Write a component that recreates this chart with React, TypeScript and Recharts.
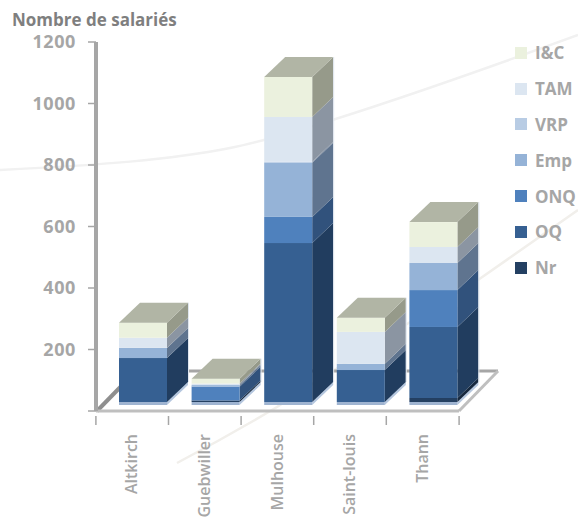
import { BarChart, Bar, XAxis, YAxis, Legend } from 'recharts';

const categories = ['Altkirch', 'Guebwiller', 'Mulhouse', 'Saint-louis', 'Thann'];
const nr = [0, 5, 0, 0, 13];
const oq = [143, 0, 517, 104, 231];
const onq = [0, 45, 85, 0, 120];
const emp = [33, 5, 176, 20, 88];
const vrp = [0, 0, 3, 0, 0];
const tam = [33, 5, 146, 104, 52];
const ic = [49, 16, 130, 46, 81];
const yTicks = [0, 200, 400, 600, 800, 1000, 1200];

const data = categories.map((name, i) => ({
  name,
  Nr: nr[i],
  OQ: oq[i],
  ONQ: onq[i],
  Emp: emp[i],
  VRP: vrp[i],
  TAM: tam[i],
  'I&C': ic[i],
}));

// bottom to top, front colour and side colour
const series = [
  { key: 'Nr', color: '#244062', side: '#17293f' },
  { key: 'OQ', color: '#366092', side: '#213d5f' },
  { key: 'ONQ', color: '#4f81bd', side: '#31527c' },
  { key: 'Emp', color: '#95b3d7', side: '#5f748f' },
  { key: 'VRP', color: '#b8cce4', side: '#76859a' },
  { key: 'TAM', color: '#dce6f1', side: '#8b95a2' },
  { key: 'I&C', color: '#ebf1de', side: '#969a8a' },
];

const GREY = '#a6a6a6';
const FONT = '"Open Sans", sans-serif';

// the 3d look: bars sit a bit behind the axis line and have a depth
const SHIFT_X = 11;
const SHIFT_Y = -9;
const DEPTH_X = 21;
const DEPTH_Y = 20;

function Block(props: any) {
  const { x, y, width, height, color, side, isTop, isBase } = props;
  const l = x + SHIFT_X;
  const r = l + width;
  const t = y + SHIFT_Y;
  const b = t + height;
  return (
    <g>
      {isBase && (
        <g>
          <path
            d={`M${r} ${b} L${r + DEPTH_X} ${b - DEPTH_Y} L${r + DEPTH_X} ${b - DEPTH_Y + 3} L${r} ${b + 3} Z`}
            fill="#b4c6de"
          />
          <rect x={l} y={b} width={width} height={3} fill="#9fb4d1" />
        </g>
      )}
      {height > 0 && (
        <g>
          <path
            d={`M${r} ${t} L${r + DEPTH_X} ${t - DEPTH_Y} L${r + DEPTH_X} ${b - DEPTH_Y} L${r} ${b} Z`}
            fill={side}
          />
          <line x1={r + DEPTH_X + 0.5} x2={r + DEPTH_X + 0.5} y1={t - DEPTH_Y} y2={b - DEPTH_Y} stroke="#dfe6ef" />
          <rect x={l} y={t} width={width} height={height} fill={color} />
        </g>
      )}
      {isTop && (
        <path
          d={`M${l} ${t} L${l + DEPTH_X} ${t - DEPTH_Y} L${r + DEPTH_X} ${t - DEPTH_Y} L${r} ${t} Z`}
          fill="#b1b5a5"
        />
      )}
    </g>
  );
}

function CategoryTick(props: any) {
  const { x, y, payload, index } = props;
  const half = 36.4;
  return (
    <g>
      <line x1={x - half} x2={x - half} y1={y - 3} y2={y + 6} stroke={GREY} strokeWidth={1.5} />
      {index === categories.length - 1 && (
        <line x1={x + half} x2={x + half} y1={y - 3} y2={y + 6} stroke={GREY} strokeWidth={1.5} />
      )}
      <text
        transform={`translate(${x + 5},${y + 15}) rotate(-90)`}
        textAnchor="end"
        fill={GREY}
        fontFamily={FONT}
        fontWeight={600}
        fontSize={16}
      >
        {payload.value}
      </text>
    </g>
  );
}

function SideLegend() {
  return (
    <div>
      {[...series].reverse().map((s) => (
        <div key={s.key} style={{ display: 'flex', alignItems: 'center', height: 35.8 }}>
          <div style={{ width: 12, height: 12, background: s.color, marginRight: 8 }} />
          <span style={{ color: GREY, fontFamily: FONT, fontWeight: 700, fontSize: 17 }}>{s.key}</span>
        </div>
      ))}
    </div>
  );
}

export default function App() {
  return (
    <div style={{ position: 'absolute', left: 0, top: 0, width: 578, height: 518, overflow: 'hidden', background: '#fff' }}>
      {/* faint background curves and the chart floor */}
      <svg width={578} height={518} style={{ position: 'absolute', left: 0, top: 0 }}>
        <path d="M0 170 C100 165 170 160 230 148 S400 100 578 35" fill="none" stroke="#f1f1f1" strokeWidth={2.5} />
        <path d="M177 463 Q230 435 277 407 Q380 340 478 280 L578 210" fill="none" stroke="#f1efeb" strokeWidth={2.5} />
        <path d="M136 371 L498 371" stroke="#a6a6a6" strokeWidth={3} />
        <path d="M459 411 L498 371" stroke="#bfbfbf" strokeWidth={3} />
        <path d="M97 411 L136 371" stroke="#8f8f8f" strokeWidth={4} />
      </svg>
      <div
        style={{
          position: 'absolute',
          left: 12,
          top: 8,
          color: '#7f7f7f',
          fontFamily: FONT,
          fontWeight: 700,
          fontSize: 17,
          whiteSpace: 'nowrap',
        }}
      >
        Nombre de salariés
      </div>
      <div style={{ position: 'absolute', left: 0, top: 0 }}>
        <BarChart
          width={578}
          height={518}
          data={data}
          margin={{ top: 42, right: 56, bottom: 0, left: 0 }}
          barSize={48}
        >
          <XAxis
            dataKey="name"
            interval={0}
            axisLine={{ stroke: '#bfbfbf', strokeWidth: 3 }}
            tickLine={false}
            tick={<CategoryTick />}
            height={107}
          />
          <YAxis
            domain={[0, 1200]}
            ticks={yTicks}
            width={96}
            axisLine={{ stroke: GREY, strokeWidth: 4 }}
            tickLine={{ stroke: GREY, strokeWidth: 1.5 }}
            tickSize={8}
            tickMargin={12}
            tickFormatter={(v: number) => (v === 0 ? '' : String(v))}
            tick={{ fill: GREY, fontFamily: FONT, fontWeight: 700, fontSize: 18, letterSpacing: 0.6 }}
          />
          <Legend
            layout="vertical"
            align="right"
            verticalAlign="top"
            wrapperStyle={{ left: 515, top: 35, width: 63 }}
            content={<SideLegend />}
          />
          {series.map((s, i) => (
            <Bar
              key={s.key}
              dataKey={s.key}
              stackId="a"
              isAnimationActive={false}
              shape={(p: any) => (
                <Block
                  {...p}
                  color={s.color}
                  side={s.side}
                  isBase={i === 0}
                  isTop={i === series.length - 1}
                />
              )}
            />
          ))}
        </BarChart>
      </div>
    </div>
  );
}
